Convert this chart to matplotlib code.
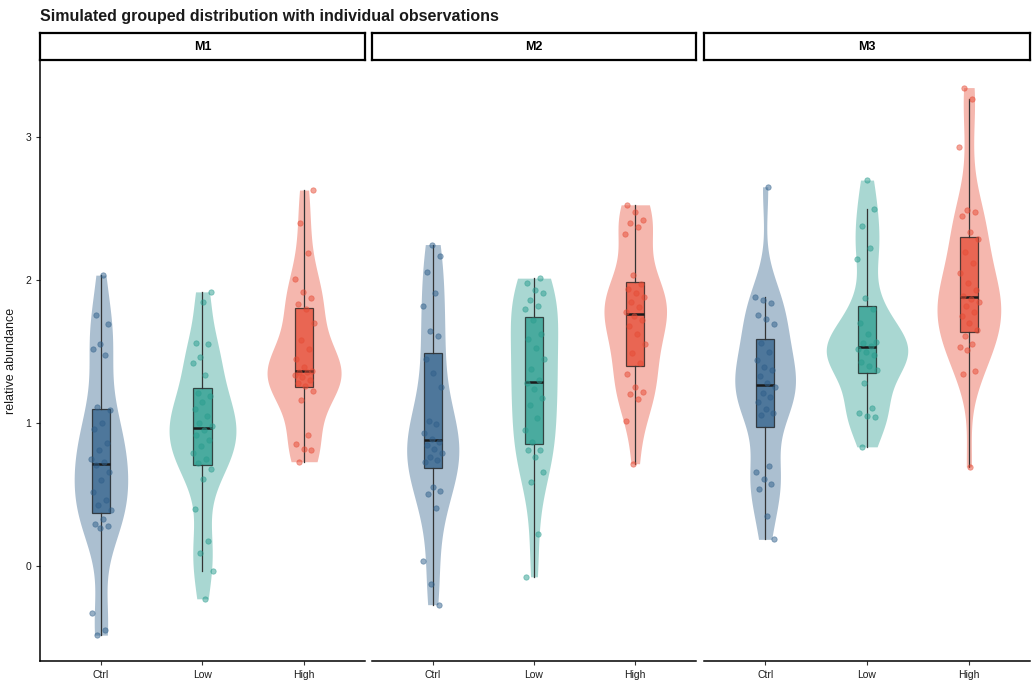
import numpy as np
import matplotlib
matplotlib.use("Agg")
import matplotlib.pyplot as plt

plt.rcParams['font.family'] = ['Liberation Sans', 'DejaVu Sans']

panels = ["M1", "M2", "M3"]
groups = ["Ctrl", "Low", "High"]
colors = {"Ctrl": "#2F5F8A", "Low": "#2A9D8F", "High": "#E64B35"}

m1_ctrl = [2.035, 1.755, 1.69, 1.55, 1.517, 1.475, 1.114, 1.09, 1.0, 0.956, 0.86, 0.81, 0.75, 0.725,
           0.71, 0.66, 0.6, 0.52, 0.46, 0.427, 0.39, 0.326, 0.294, 0.28, 0.268, -0.33, -0.448, -0.483]
m1_low = [1.918, 1.844, 1.562, 1.552, 1.459, 1.42, 1.34, 1.21, 1.19, 1.15, 1.1, 1.05, 1.0, 0.98,
          0.955, 0.92, 0.88, 0.84, 0.79, 0.75, 0.72, 0.676, 0.606, 0.396, 0.173, 0.089, -0.033, -0.229]
m1_high = [0.73, 0.81, 0.816, 0.855, 0.914, 1.161, 1.226, 1.26, 1.28, 1.30, 1.32, 1.34, 1.355, 1.36,
           1.368, 1.39, 1.45, 1.52, 1.58, 1.70, 1.80, 1.83, 1.872, 1.918, 2.005, 2.187, 2.40, 2.63]
m2_ctrl = [-0.27, -0.126, 0.033, 0.403, 0.506, 0.522, 0.555, 0.73, 0.74, 0.764, 0.79, 0.82, 0.85, 0.87,
           0.89, 0.93, 0.991, 1.014, 1.254, 1.352, 1.45, 1.61, 1.643, 1.82, 1.907, 2.06, 2.168, 2.249]
m2_low = [-0.075, 0.222, 0.587, 0.66, 0.764, 0.811, 0.815, 0.87, 0.95, 1.035, 1.126, 1.175, 1.24, 1.28,
          1.30, 1.38, 1.45, 1.524, 1.587, 1.622, 1.72, 1.797, 1.818, 1.86, 1.907, 1.93, 1.977, 2.014]
m2_high = [0.716, 1.014, 1.166, 1.207, 1.219, 1.254, 1.347, 1.42, 1.487, 1.55, 1.62, 1.68, 1.72, 1.75,
           1.775, 1.813, 1.85, 1.88, 1.907, 1.94, 1.97, 2.035, 2.32, 2.373, 2.403, 2.42, 2.48, 2.527]
m3_ctrl = [0.187, 0.347, 0.541, 0.573, 0.606, 0.657, 0.699, 1.06, 1.068, 1.10, 1.15, 1.18, 1.21, 1.25,
           1.28, 1.331, 1.37, 1.394, 1.44, 1.50, 1.557, 1.695, 1.725, 1.755, 1.837, 1.86, 1.883, 2.653]
m3_low = [0.834, 1.04, 1.049, 1.068, 1.105, 1.282, 1.37, 1.40, 1.43, 1.476, 1.50, 1.52,
          1.54, 1.559, 1.569, 1.62, 1.70, 1.80, 1.872, 2.145, 2.222, 2.38, 2.497, 2.70]
m3_high = [0.694, 1.345, 1.366, 1.51, 1.529, 1.55, 1.61, 1.65, 1.70, 1.75, 1.78, 1.82, 1.85, 1.87,
           1.89, 1.93, 1.98, 2.05, 2.12, 2.20, 2.285, 2.34, 2.45, 2.478, 2.49, 2.93, 3.27, 3.347]

data = {
    "M1": {"Ctrl": m1_ctrl, "Low": m1_low, "High": m1_high},
    "M2": {"Ctrl": m2_ctrl, "Low": m2_low, "High": m2_high},
    "M3": {"Ctrl": m3_ctrl, "Low": m3_low, "High": m3_high},
}


def kde(vals, n=512):
    v = np.asarray(vals, float)
    sd = v.std(ddof=1)
    iqr = np.subtract(*np.percentile(v, [75, 25]))
    lo = min(sd, iqr / 1.34)
    bw = 0.9 * lo * len(v) ** (-0.2)
    grid = np.linspace(v.min(), v.max(), n)
    d = np.exp(-0.5 * ((grid[:, None] - v[None, :]) / bw) ** 2).sum(1) / (len(v) * bw * np.sqrt(2 * np.pi))
    return grid, d


dens = {p: {g: kde(data[p][g]) for g in groups} for p in panels}
maxd = max(dens[p][g][1].max() for p in panels for g in groups)
vwidth = 0.8

W, H = 1036, 690
fig = plt.figure(figsize=(W / 100, H / 100), dpi=100)
xs = [(40, 365), (372, 696), (704, 1030)]
top, bot = 60, 661
strip_top = 33

for pi, p in enumerate(panels):
    x0, x1 = xs[pi]
    ax = fig.add_axes([x0 / W, 1 - bot / H, (x1 - x0) / W, (bot - top) / H])
    for gi, g in enumerate(groups):
        pos = gi + 1
        c = colors[g]
        grid, d = dens[p][g]
        hw = d / maxd * vwidth / 2
        ax.fill_betweenx(grid, pos - hw, pos + hw, color=c, alpha=0.4, lw=0, zorder=1)
        bp = ax.boxplot([data[p][g]], positions=[pos], widths=0.18, patch_artist=True,
                        showfliers=False, manage_ticks=False, whis=1.5,
                        boxprops=dict(facecolor=c, alpha=0.75, edgecolor="#1a1a1a", linewidth=0.9),
                        whiskerprops=dict(color="#333333", linewidth=0.9),
                        capprops=dict(linewidth=0),
                        medianprops=dict(color="#1a1a1a", linewidth=1.8))
        for b in bp["boxes"]:
            b.set_zorder(2)
        for w in bp["whiskers"]:
            w.set_zorder(2)
        for m in bp["medians"]:
            m.set_zorder(3)
        vals = np.asarray(data[p][g])
        idx = np.arange(len(vals))
        jit = (((idx + 1) * 0.6180339887 + gi * 0.31 + pi * 0.17) % 1.0 - 0.5) * 0.2
        ax.scatter(pos + jit, vals, s=15, color=c, alpha=0.5, lw=0.6, edgecolor=c, zorder=4)
    ax.set_xlim(0.4, 3.6)
    ax.set_ylim(-0.664, 3.54)
    ax.set_xticks([1, 2, 3])
    ax.set_xticklabels(groups, fontsize=7.5, color="#1a1a1a")
    ax.tick_params(axis="x", length=3, width=0.8, colors="#333333", labelcolor="#1a1a1a")
    for s in ["top", "right"]:
        ax.spines[s].set_visible(False)
    ax.spines["bottom"].set_linewidth(1.1)
    ax.spines["left"].set_linewidth(1.1)
    if pi == 0:
        ax.set_yticks([0, 1, 2, 3])
        ax.tick_params(axis="y", length=3, width=0.8, labelsize=7.5, colors="#333333", labelcolor="#1a1a1a")
        ax.set_ylabel("relative abundance", fontsize=9, color="#1a1a1a", labelpad=6)
    else:
        ax.spines["left"].set_visible(False)
        ax.set_yticks([])
    sax = fig.add_axes([x0 / W, 1 - top / H, (x1 - x0) / W, (top - strip_top) / H])
    sax.set_xticks([])
    sax.set_yticks([])
    for s in sax.spines.values():
        s.set_linewidth(1.6)
        s.set_color("black")
    sax.text(0.5, 0.5, p, ha="center", va="center", fontsize=9, fontweight="bold", transform=sax.transAxes)

fig.text(40 / W, 1 - 16 / H, "Simulated grouped distribution with individual observations",
         fontsize=11.5, fontweight="bold", ha="left", va="center", color="#1a1a1a")

fig.savefig("out.png", dpi=100)
